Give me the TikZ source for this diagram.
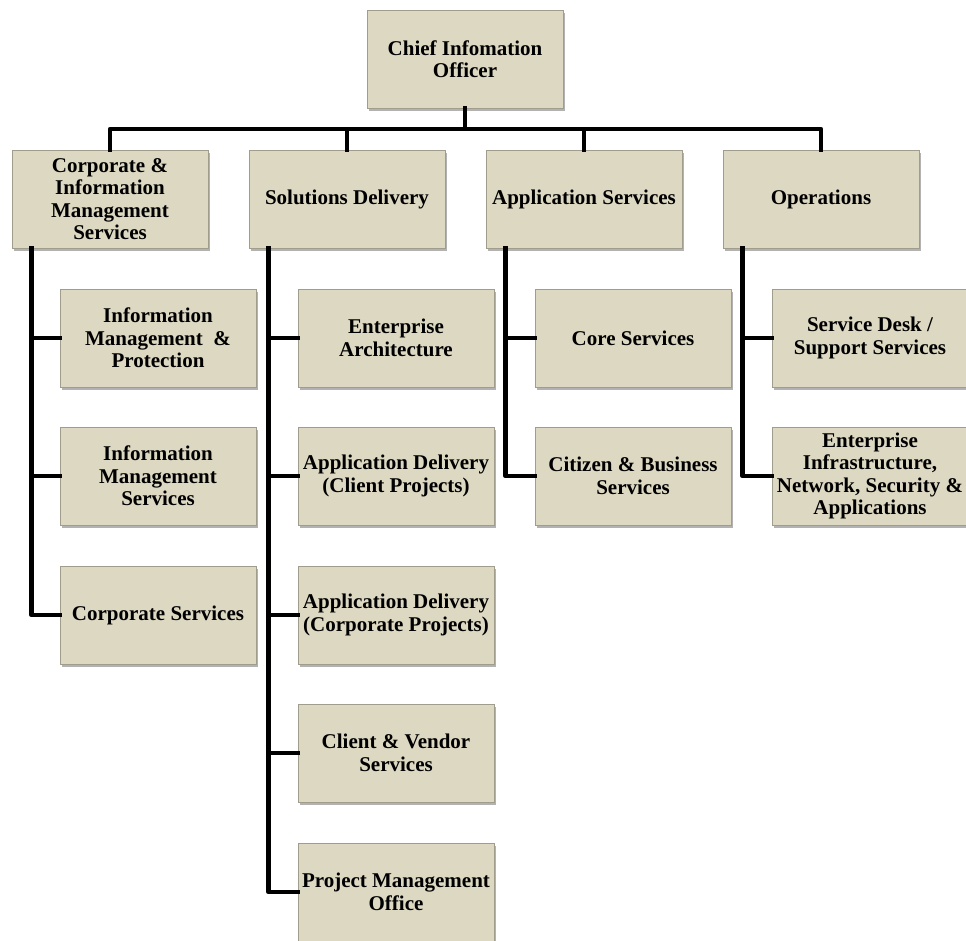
\documentclass[tikz,border=0pt]{standalone}
\usepackage{fontspec}
\setmainfont{Liberation Serif}
\usetikzlibrary{shadows}
\definecolor{boxfill}{HTML}{DDD8C2}
\definecolor{boxline}{HTML}{A19D8C}
\tikzset{
  orgbox/.style={draw=boxline, line width=0.8pt, fill=boxfill,
    minimum width=196pt, minimum height=98pt, inner sep=0pt, align=center,
    font=\bfseries\fontsize{21}{22.4}\selectfont,
    drop shadow={shadow xshift=2pt, shadow yshift=-2.5pt, opacity=0.3, fill=black}},
  conn/.style={line width=4.5pt, black, line cap=rect, line join=round}
}
\begin{document}
\begin{tikzpicture}[x=1pt,y=-1pt]
\useasboundingbox (0,0) rectangle (966,940);
\clip (0,0) rectangle (966,940);
% top
\node[orgbox] (cio) at (465,59) {Chief Infomation\\Officer};
% level 2
\node[orgbox] (l2a) at (110,199) {Corporate \&\\Information\\Management\\Services};
\node[orgbox] (l2b) at (347,199) {Solutions Delivery};
\node[orgbox] (l2c) at (584,199) {Application Services};
\node[orgbox] (l2d) at (821,199) {Operations};
% level 3 column 1
\node[orgbox] (a1) at (158,338) {Information\\Management \ \&\\Protection};
\node[orgbox] (a2) at (158,476) {Information\\Management\\Services};
\node[orgbox] (a3) at (158,615) {Corporate Services};
% column 2
\node[orgbox] (b1) at (396,338) {Enterprise\\Architecture};
\node[orgbox] (b2) at (396,476) {Application Delivery\\(Client Projects)};
\node[orgbox] (b3) at (396,615) {Application Delivery\\(Corporate Projects)};
\node[orgbox] (b4) at (396,753) {Client \& Vendor\\Services};
\node[orgbox] (b5) at (396,892) {Project Management\\Office};
% column 3
\node[orgbox] (c1) at (633,338) {Core Services};
\node[orgbox] (c2) at (633,476) {Citizen \& Business\\Services};
% column 4
\node[orgbox] (d1) at (870,338) {Service Desk /\\Support Services};
\node[orgbox] (d2) at (870,476) {Enterprise\\Infrastructure,\\Network, Security \&\\Applications};
% connectors top
\coordinate (bus) at (465,129);
\draw[conn] (cio.south) -- (bus);
\draw[conn] (l2a.north) -- (l2a.north |- bus) -- (l2d.north |- bus) -- (l2d.north);
\draw[conn] (l2b.north) -- (l2b.north |- bus);
\draw[conn] (l2c.north) -- (l2c.north |- bus);
% spines
\foreach \p/\c in {l2a/a1,l2a/a2,l2a/a3,l2b/b1,l2b/b2,l2b/b3,l2b/b4,l2b/b5,l2c/c1,l2c/c2,l2d/d1,l2d/d2}
  \draw[conn] ([xshift=20pt]\p.south west) |- (\c.west);
\end{tikzpicture}
\end{document}
